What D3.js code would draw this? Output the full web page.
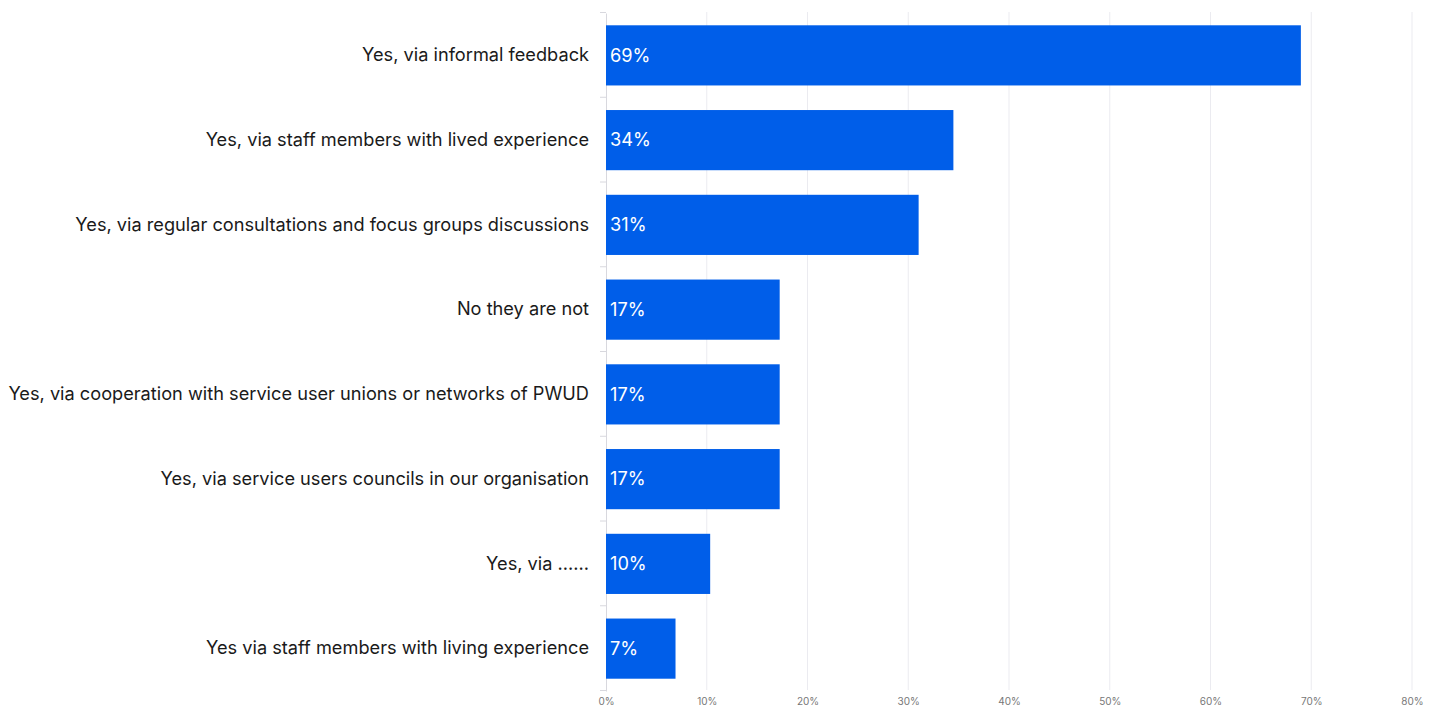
<!DOCTYPE html>
<html><head><meta charset="utf-8">
<script src="https://cdn.jsdelivr.net/npm/d3@7"></script>
<style>body{margin:0;background:#fff;font-family:Inter, "Noto Sans", sans-serif;}</style>
</head><body>
<svg id="chart" width="1435" height="708"></svg>
<script>
const categories = [
  "Yes, via informal feedback",
  "Yes, via staff members with lived experience",
  "Yes, via regular consultations and focus groups discussions",
  "No they are not",
  "Yes, via cooperation with service user unions or networks of PWUD",
  "Yes, via service users councils in our organisation",
  "Yes, via ......",
  "Yes via staff members with living experience"
];
const values = [68.97, 34.48, 31.03, 17.24, 17.24, 17.24, 10.34, 6.90];
const tickValues = [0, 10, 20, 30, 40, 50, 60, 70, 80];

const svg = d3.select("#chart");
const margin = {left: 606, right: 23, top: 12, bottom: 18};
const W = 1435, H = 708;
const x = d3.scaleLinear().domain([0, 80]).range([margin.left, W - margin.right]);
const y = d3.scaleBand().domain(categories).range([margin.top + 1, H - margin.bottom + 1]).paddingInner(0.29).paddingOuter(0.145);

// grid
svg.append("g").selectAll("line").data(tickValues.slice(1)).join("line")
  .attr("x1", d => x(d)).attr("x2", d => x(d))
  .attr("y1", margin.top).attr("y2", H - margin.bottom)
  .attr("stroke", "#ebebf0").attr("stroke-width", 1);

// x axis labels
const xAxis = d3.axisBottom(x).tickValues(tickValues).tickFormat(d => d + "%").tickSize(0).tickPadding(8);
const gx = svg.append("g").attr("transform", `translate(0,${H - margin.bottom})`).call(xAxis);
gx.select(".domain").remove();
gx.selectAll("text").attr("font-family", "Inter, sans-serif").attr("font-size", 10).attr("fill", "#777");

// y axis
const yAxis = d3.axisLeft(y).tickSize(0).tickPadding(17);
const gy = svg.append("g").attr("transform", `translate(${margin.left},0)`).call(yAxis);
gy.select(".domain").attr("stroke", "#d8d8de");
gy.selectAll("text").attr("font-family", "Inter, sans-serif").attr("font-size", 18.2).attr("fill", "#1a1a1a");
// boundary ticks
const step = y.step();
const bounds = d3.range(categories.length + 1).map(i => margin.top + i * step);
svg.append("g").selectAll("line").data(bounds).join("line")
  .attr("x1", margin.left - 6).attr("x2", margin.left)
  .attr("y1", d => d + 0.5).attr("y2", d => d + 0.5)
  .attr("stroke", "#d8d8de");

// bars
svg.append("g").selectAll("rect").data(categories).join("rect")
  .attr("x", x(0)).attr("y", d => y(d))
  .attr("width", (d, i) => x(values[i]) - x(0))
  .attr("height", y.bandwidth())
  .attr("fill", "#005ee9");

// bar labels
svg.append("g").selectAll("text").data(categories).join("text")
  .attr("x", x(0) + 4).attr("y", d => y(d) + y.bandwidth() / 2)
  .attr("dy", "0.35em")
  .attr("font-family", "Inter, sans-serif").attr("font-size", 18.2).attr("fill", "#fff")
  .text((d, i) => Math.round(values[i]) + "%");
</script>
</body></html>
